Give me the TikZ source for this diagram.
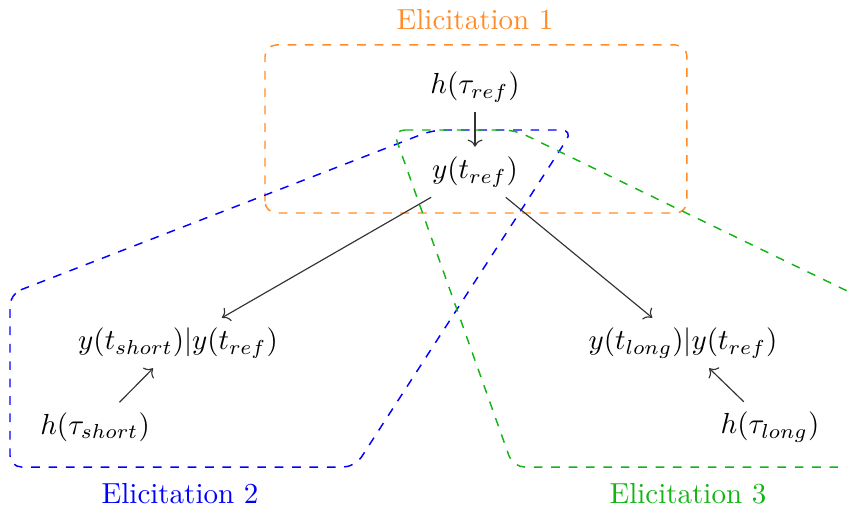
\documentclass[tikz,border=0pt]{standalone}
\usepackage{amsmath}
\usepackage{tikz}
\usetikzlibrary{arrows.meta,positioning}

\definecolor{elicorange}{RGB}{255,140,40}
\definecolor{elicgreen}{RGB}{20,180,20}

\begin{document}
\begin{tikzpicture}[>=To,
  grp/.style={dashed,rounded corners=4pt,line width=0.5pt},
  conn/.style={->,draw=black!80}]
\useasboundingbox (0,0) rectangle (10.267,6.206);
\clip (0,0) rectangle (10.267,6.206);
% variables
\node (h_ref) at (5.758,5.152) {$h(\tau_{ref})$};
\node (y_ref) at (5.758,4.121) {$y(t_{ref})$};
\node (y_short) at (2.158,2.048) {$y(t_{short})|y(t_{ref})$};
\node (h_short) at (1.152,1.030) {$h(\tau_{short})$};
\node (y_long) at (8.279,2.048) {$y(t_{long})|y(t_{ref})$};
\node (h_long) at (9.333,1.030) {$h(\tau_{long})$};
% group labels
\node[text=elicorange] (lab_e1) at (5.758,5.964) {Elicitation 1};
\node[text=blue] (lab_e2) at (2.182,0.218) {Elicitation 2};
\node[text=elicgreen] (lab_e3) at (8.339,0.218) {Elicitation 3};
% groups
\draw[grp,elicorange] (3.212,3.624) rectangle (8.327,5.661);
\draw[grp,blue] (0.121,2.642) -- (5.248,4.630) -- (6.945,4.630) -- (4.303,0.545) -- (0.121,0.545) -- cycle;
\draw[grp,elicgreen] (4.764,4.630) -- (6.242,4.630) -- (12.12,1.782) -- (12.12,0.545) -- (6.218,0.545) -- cycle;
% dependencies
\draw[conn] (h_ref)--(y_ref);
\draw[conn] (y_ref)--(y_short);
\draw[conn] (y_ref)--(y_long);
\draw[conn] (h_short)--(y_short);
\draw[conn] (h_long)--(y_long);
\end{tikzpicture}
\end{document}
